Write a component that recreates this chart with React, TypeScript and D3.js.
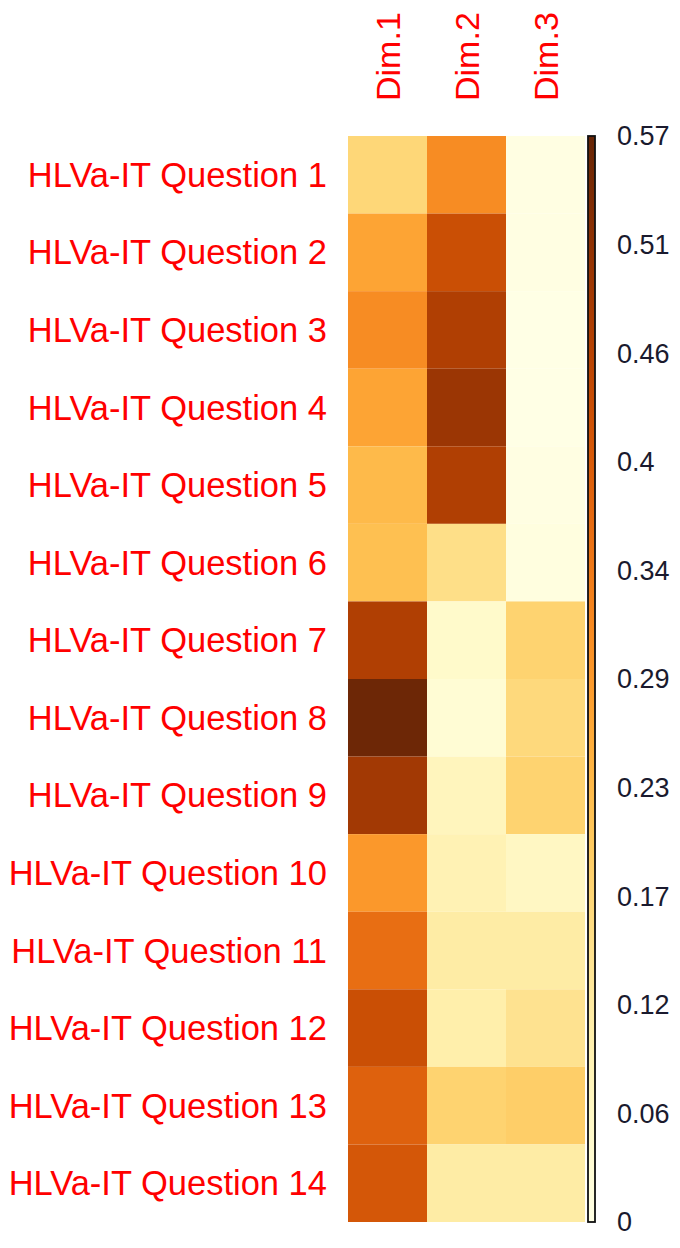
import * as d3 from 'd3'

// Row and column labels
const questions = [
  'HLVa-IT Question 1',
  'HLVa-IT Question 2',
  'HLVa-IT Question 3',
  'HLVa-IT Question 4',
  'HLVa-IT Question 5',
  'HLVa-IT Question 6',
  'HLVa-IT Question 7',
  'HLVa-IT Question 8',
  'HLVa-IT Question 9',
  'HLVa-IT Question 10',
  'HLVa-IT Question 11',
  'HLVa-IT Question 12',
  'HLVa-IT Question 13',
  'HLVa-IT Question 14',
]
const dims = ['Dim.1', 'Dim.2', 'Dim.3']

// Contribution values per dimension
const dim1 = [0.17, 0.27, 0.31, 0.27, 0.23, 0.22, 0.47, 0.565, 0.49, 0.29, 0.365, 0.43, 0.39, 0.41]
const dim2 = [0.31, 0.43, 0.47, 0.5, 0.47, 0.15, 0.045, 0.03, 0.07, 0.085, 0.11, 0.1, 0.18, 0.11]
const dim3 = [0.005, 0.005, 0, 0, 0.005, 0.01, 0.18, 0.165, 0.18, 0.06, 0.11, 0.14, 0.19, 0.11]

const colorMax = 0.575
const tickLabels = ['0', '0.06', '0.12', '0.17', '0.23', '0.29', '0.34', '0.4', '0.46', '0.51', '0.57']

const W = 680
const H = 1248
const grid = { left: 348, right: 585, top: 136, bottom: 1222 }
const FONT = '"Liberation Sans", Arial, sans-serif'

export default function App() {
  const series = [dim1, dim2, dim3]
  const cells = series.flatMap((vals, j) => vals.map((v, i) => ({ row: questions[i], col: dims[j], v })))

  const x = d3.scaleBand().domain(dims).range([grid.left, grid.right])
  const y = d3.scaleBand().domain(questions).range([grid.top, grid.bottom])
  const color = d3.scaleSequential(d3.interpolateYlOrBr).domain([0, colorMax])

  // colour key on the right
  const barX = 588
  const barW = 7
  const tickY = d3.scaleLinear().domain([0, tickLabels.length - 1]).range([grid.bottom, grid.top])
  const stops = d3.range(0, 1.0001, 0.05)

  return (
    <svg width={W} height={H} style={{ position: 'absolute', left: 0, top: 0, background: '#fff' }}>
      <defs>
        <linearGradient id="key" x1="0" y1="1" x2="0" y2="0">
          {stops.map(t => (
            <stop key={t} offset={t} stopColor={d3.interpolateYlOrBr(t)} />
          ))}
        </linearGradient>
      </defs>

      {cells.map(c => (
        <rect
          key={c.row + c.col}
          x={x(c.col)}
          y={y(c.row)}
          width={x.bandwidth()}
          height={y.bandwidth()}
          fill={color(c.v)}
        />
      ))}

      {questions.map(q => (
        <text
          key={q}
          x={327}
          y={(y(q) ?? 0) + y.bandwidth() / 2}
          dy="0.35em"
          textAnchor="end"
          fill="#ff0000"
          fontFamily={FONT}
          fontSize={34.5}
        >
          {q}
        </text>
      ))}

      {dims.map(d => {
        const cx = (x(d) ?? 0) + x.bandwidth() / 2
        return (
          <text
            key={d}
            transform={`translate(${cx},101) rotate(-90)`}
            dy="0.36em"
            textAnchor="start"
            fill="#ff0000"
            fontFamily={FONT}
            fontSize={34}
          >
            {d}
          </text>
        )
      })}

      <rect
        x={barX}
        y={grid.top}
        width={barW}
        height={grid.bottom - grid.top}
        fill="url(#key)"
        stroke="#111"
        strokeWidth={1.8}
      />

      {tickLabels.map((t, i) => (
        <text
          key={t}
          x={617}
          y={tickY(i)}
          dy="0.35em"
          fill="#1a1a2e"
          fontFamily={FONT}
          fontSize={27}
        >
          {t}
        </text>
      ))}
    </svg>
  )
}
